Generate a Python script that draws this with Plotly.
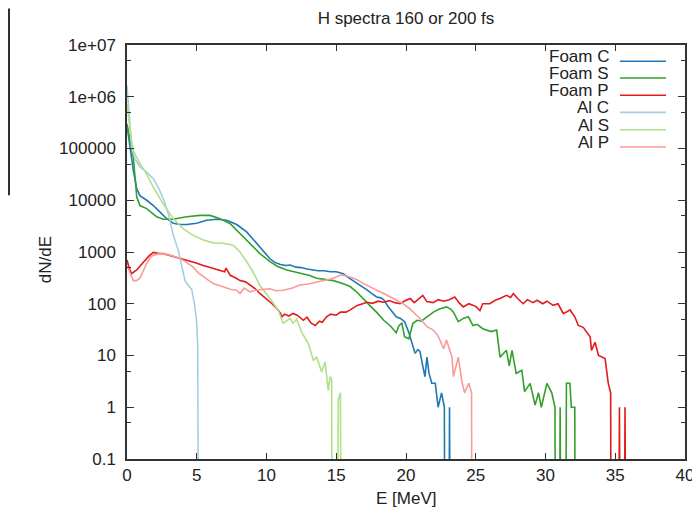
import plotly.graph_objects as go

# ---------------- data (dN/dE vs E [MeV]); 0 = empty bin ----------------
E_foam_c = [0.0, 0.2, 0.45, 0.7, 0.93, 1.41, 1.89, 2.37, 2.85, 3.32, 3.8, 4.28, 5.0, 5.7, 6.43, 7.15,
            7.86, 8.58, 9.3, 9.77, 10.25, 10.6, 11.0, 11.4, 11.7, 12.1, 12.5, 12.9, 13.3, 13.7, 14.1,
            14.6, 15.0, 15.5, 15.9, 16.3, 16.6, 16.9, 17.2, 17.5, 17.9, 18.2, 18.4, 18.7, 19.0, 19.3,
            19.6, 19.9, 20.2, 20.5, 20.65, 20.85, 21.0, 21.2, 21.36, 21.5, 21.65, 21.85, 22.1, 22.3,
            22.45, 22.55, 22.75, 22.78, 23.08, 23.12, 23.16]
N_foam_c = [280000, 107000, 38000, 16600, 12300, 10000, 7900, 5900, 4400, 3600, 3400, 3400, 3600, 4100,
            4300, 4100, 3400, 2450, 1450, 1000, 740, 630, 575, 550, 560, 510, 500, 470, 450, 435, 435,
            415, 415, 380, 315, 270, 240, 210, 185, 160, 135, 130, 120, 89, 71, 56, 52, 45, 28, 16, 11,
            13, 12, 6.3, 3.9, 9.3, 4.5, 2.9, 2.9, 1.0, 1.6, 1.9, 1.0, 0, 0, 1.0, 0]

E_foam_s = [0.0, 0.2, 0.45, 0.7, 0.93, 1.41, 1.8, 2.13, 2.6, 3.3, 4.28, 5.23, 5.95, 6.67, 7.38, 8.1,
            8.82, 9.53, 10.25, 10.8, 11.45, 12.0, 12.64, 13.1, 13.6, 14.2, 14.8, 15.4, 16.0, 16.5,
            16.9, 17.4, 17.9, 18.4, 18.85, 19.3, 19.5, 19.7, 19.9, 20.2, 20.5, 20.8, 21.1, 21.5,
            21.96, 22.4, 22.9, 23.2, 23.4, 23.75, 24.1, 24.47, 24.8, 25.1, 25.5, 26.1, 26.5, 26.74,
            27.0, 27.2, 27.4, 27.6, 27.9, 28.3, 28.5, 28.9, 29.25, 29.5, 29.7, 30.1, 30.45, 30.68,
            30.7, 31.0, 31.05, 31.1, 31.45, 31.5, 31.75, 31.85, 32.1, 32.12]
N_foam_s = [300000, 158000, 68000, 11500, 7900, 6900, 5750, 4800, 4300, 4300, 4800, 5100, 5100, 4400,
            3550, 2300, 1450, 930, 650, 525, 450, 415, 380, 350, 310, 295, 280, 250, 215, 165, 130,
            93, 68, 48, 38, 27.5, 38, 42, 23, 21, 42, 48, 46, 56, 69, 79, 87, 79, 69, 45, 52, 56, 38,
            40, 33, 29, 31, 9.3, 11, 12.6, 6.3, 12.6, 4.5, 5.2, 2.0, 2.9, 1.1, 1.9, 1.0, 2.9, 1.9,
            1.0, 0, 0, 1.0, 0, 0, 2.9, 2.9, 1.0, 1.0, 0]

E_foam_p = [0.0, 0.15, 0.33, 0.7, 1.0, 1.3, 1.6, 1.89, 2.3, 2.6, 3.0, 3.32, 3.8, 4.28, 4.9, 5.47, 6.1,
            6.67, 7.0, 7.1, 7.4, 7.8, 8.1, 8.5, 8.8, 9.2, 9.5, 9.8, 10.1, 10.4, 10.73, 11.0, 11.1,
            11.3, 11.6, 11.9, 12.2, 12.64, 12.9, 13.2, 13.5, 13.8, 14.0, 14.3, 14.6, 15.0, 15.3,
            15.7, 16.0, 16.5, 16.9, 17.2, 17.6, 18.0, 18.4, 18.8, 19.2, 19.57, 20.0, 20.3, 20.6,
            21.2, 21.5, 21.96, 22.3, 22.7, 23.1, 23.5, 23.8, 24.1, 24.5, 25.0, 25.3, 25.5, 26.0,
            26.4, 26.74, 27.2, 27.5, 27.7, 28.0, 28.4, 28.7, 29.1, 29.4, 29.8, 30.1, 30.55, 30.9,
            31.27, 31.5, 31.76, 32.1, 32.35, 32.7, 33.0, 33.2, 33.3, 33.55, 33.8, 34.27, 34.5,
            34.67, 34.7, 35.25, 35.3, 35.35, 35.65, 35.7, 35.75]
N_foam_p = [700, 500, 380, 450, 560, 690, 850, 980, 930, 930, 870, 800, 760, 690, 620, 550, 490, 450,
            415, 490, 355, 315, 280, 265, 230, 195, 160, 138, 117, 100, 81, 66, 56, 63, 58, 65, 60,
            48, 55, 42, 38, 46, 44, 56, 63, 60, 69, 69, 76, 93, 100, 107, 102, 112, 107, 115, 105,
            100, 117, 126, 105, 145, 110, 105, 120, 112, 120, 135, 105, 87, 100, 89, 74, 100, 100,
            117, 126, 145, 132, 158, 126, 100, 120, 105, 117, 100, 112, 93, 100, 65, 69, 76, 56,
            38, 35, 28, 23, 12.6, 18, 10, 8.7, 2.9, 1.9, 0, 0, 1.0, 0, 0, 1.0, 0]

E_al_c = [0.0, 0.15, 0.33, 0.57, 0.93, 1.41, 1.89, 2.24, 2.6, 2.96, 3.32, 3.68, 3.92, 4.16, 4.4,
          4.64, 4.87, 5.0, 5.07, 5.1, 5.12]
N_al_c = [1650000, 400000, 107000, 63000, 44000, 35000, 26000, 17800, 10700, 5500, 2100, 1070, 560,
          280, 225, 190, 87, 42, 15, 3.3, 0]

E_al_s = [0.0, 0.15, 0.3, 0.45, 0.93, 1.41, 1.89, 2.6, 3.32, 4.04, 4.75, 5.47, 6.19, 6.9, 7.62, 8.1,
          8.58, 9.1, 9.53, 10.25, 10.85, 11.2, 11.45, 11.7, 11.9, 12.16, 12.5, 13.0, 13.36, 13.6,
          13.95, 14.2, 14.43, 14.55, 14.67, 14.7, 15.08, 15.15, 15.3, 15.35]
N_al_s = [720000, 320000, 160000, 91000, 51000, 32000, 17800, 8500, 4400, 2800, 2100, 1700, 1500,
          1480, 1350, 1000, 650, 380, 225, 126, 74, 42, 46, 52, 42, 50, 29, 17, 8.1, 9.3, 4.8, 7.6,
          2.1, 3.9, 3.5, 0, 0, 1.4, 1.9, 0]

E_al_p = [0.0, 0.2, 0.45, 0.7, 0.93, 1.2, 1.41, 1.7, 1.89, 2.3, 2.6, 3.08, 3.5, 4.04, 4.4, 4.75, 5.1,
          5.47, 5.8, 6.19, 6.5, 6.9, 7.4, 7.86, 8.1, 8.4, 8.82, 9.2, 9.53, 10.25, 10.7, 11.2, 11.8,
          12.4, 13.0, 13.6, 14.2, 14.8, 15.27, 15.5, 16.0, 16.5, 16.9, 17.4, 17.9, 18.4, 18.85,
          19.3, 19.8, 20.3, 20.8, 21.0, 21.5, 21.96, 22.3, 22.7, 22.9, 23.3, 23.4, 23.75, 24.0,
          24.2, 24.5, 24.7, 24.72]
N_al_p = [550, 400, 280, 280, 315, 450, 600, 800, 870, 930, 930, 870, 800, 690, 600, 510, 400, 330,
          290, 245, 230, 210, 190, 182, 158, 200, 170, 182, 186, 195, 178, 182, 200, 230, 240, 263,
          290, 310, 355, 355, 330, 290, 250, 210, 182, 158, 135, 117, 100, 79, 60, 52, 36, 31, 24,
          13.5, 20, 9.3, 3.9, 9.3, 3.2, 1.9, 2.9, 1.9, 0]

names = ["Foam C", "Foam S", "Foam P", "Al C", "Al S", "Al P"]
colors = ["#1f78b4", "#33a02c", "#e31a1c", "#a6cee3", "#b2df8a", "#fb9a99"]
energies = [E_foam_c, E_foam_s, E_foam_p, E_al_c, E_al_s, E_al_p]
counts = [N_foam_c, N_foam_s, N_foam_p, N_al_c, N_al_s, N_al_p]

y_tickvals = [0.1, 1, 10, 100, 1000, 10000, 100000, 1e6, 1e7]
y_ticktext = ["0.1", "1", "10", "100", "1000", "10000", "100000", "1e+06", "1e+07"]
y_minor = [0.5, 5, 50, 500, 5000, 50000, 500000, 5e6]

FLOOR = 1e-3  # empty bins drop below the axis, as in the original plot

# ---------------- figure geometry ----------------
# the page body has an 8px margin, so the figure sits at (8, 8) in the window
OFF = 8
W, H = 700 - OFF, 511 - OFF
L, T = 127 - OFF, 44.5 - OFF
R = W - (685 - OFF)
B = H - (459 - OFF)
pw, ph = W - L - R, H - T - B


def px(xw):  # window x pixel -> paper x
    return (xw - OFF - L) / pw


def py(yw):  # window y pixel -> paper y
    return (H - B - (yw - OFF)) / ph


font_family = "Liberation Sans, Arial, Helvetica, sans-serif"
txt = "#222222"
axc = "#333333"

fig = go.Figure()
for name, e, n, c in zip(names, energies, counts, colors):
    fig.add_trace(go.Scatter(
        x=e, y=[v if v > 0 else FLOOR for v in n], mode="lines", name=name,
        line=dict(color=c, width=1.6), showlegend=False, hoverinfo="x+y+name"))

# gnuplot-style key: label right-aligned, sample line to its right
row_y = [60.7, 77.6, 94.8, 112.0, 129.3, 146.6]
for i, (name, c) in enumerate(zip(names, colors)):
    fig.add_annotation(xref="paper", yref="paper", x=px(610), y=py(row_y[i] - 4.5),
                       text=name, showarrow=False, xanchor="right", yanchor="middle",
                       height=15, borderpad=0, valign="middle",
                       font=dict(size=17, color=txt, family=font_family))
    fig.add_shape(type="line", xref="paper", yref="paper",
                  x0=px(620), x1=px(666), y0=py(row_y[i]), y1=py(row_y[i]),
                  line=dict(color=c, width=1.6))

fig.add_annotation(xref="paper", yref="paper", x=0.5, y=py(499),
                   text="E [MeV]", showarrow=False, xanchor="center", yanchor="middle",
                   font=dict(size=17, color=txt, family=font_family))
fig.add_annotation(xref="paper", yref="paper", x=px(45), y=py(260),
                   text="dN/dE", showarrow=False, textangle=-90, xanchor="center", yanchor="middle",
                   font=dict(size=17, color=txt, family=font_family))

# sliver of the dark frame visible at the window's left edge in the original screenshot
fig.add_shape(type="rect", xref="paper", yref="paper",
              x0=px(8), x1=px(10), y0=py(195), y1=py(8),
              fillcolor="#2b303b", line=dict(width=0), layer="below")

fig.update_layout(
    width=W, height=H,
    margin=dict(l=L, r=R, t=T, b=B, autoexpand=False),
    paper_bgcolor="white", plot_bgcolor="white",
    title=dict(text="H spectra 160 or 200 fs", x=0.5, xref="paper", xanchor="center",
               y=1 - (18 - OFF) / H, yref="container", yanchor="middle",
               font=dict(size=17, color=txt, family=font_family)),
    xaxis=dict(range=[0, 40], tick0=0, dtick=5, ticks="inside", ticklen=6, tickwidth=1.2,
               tickcolor=axc, showline=True, linecolor=axc, linewidth=1.5, mirror="allticks",
               showgrid=False, zeroline=False,
               tickfont=dict(size=17, color=txt, family=font_family)),
    yaxis=dict(type="log", range=[-1, 7], tickmode="array", tickvals=y_tickvals, ticktext=y_ticktext,
               ticks="inside", ticklen=7, tickwidth=1.2, tickcolor=axc,
               minor=dict(tickmode="array", tickvals=y_minor, ticks="inside", ticklen=4,
                          tickwidth=1.2, tickcolor=axc, showgrid=False),
               showline=True, linecolor=axc, linewidth=1.5, mirror="allticks",
               showgrid=False, zeroline=False, ticklabelstandoff=6,
               tickfont=dict(size=17, color=txt, family=font_family)),
)

fig.write_html("out.html")
